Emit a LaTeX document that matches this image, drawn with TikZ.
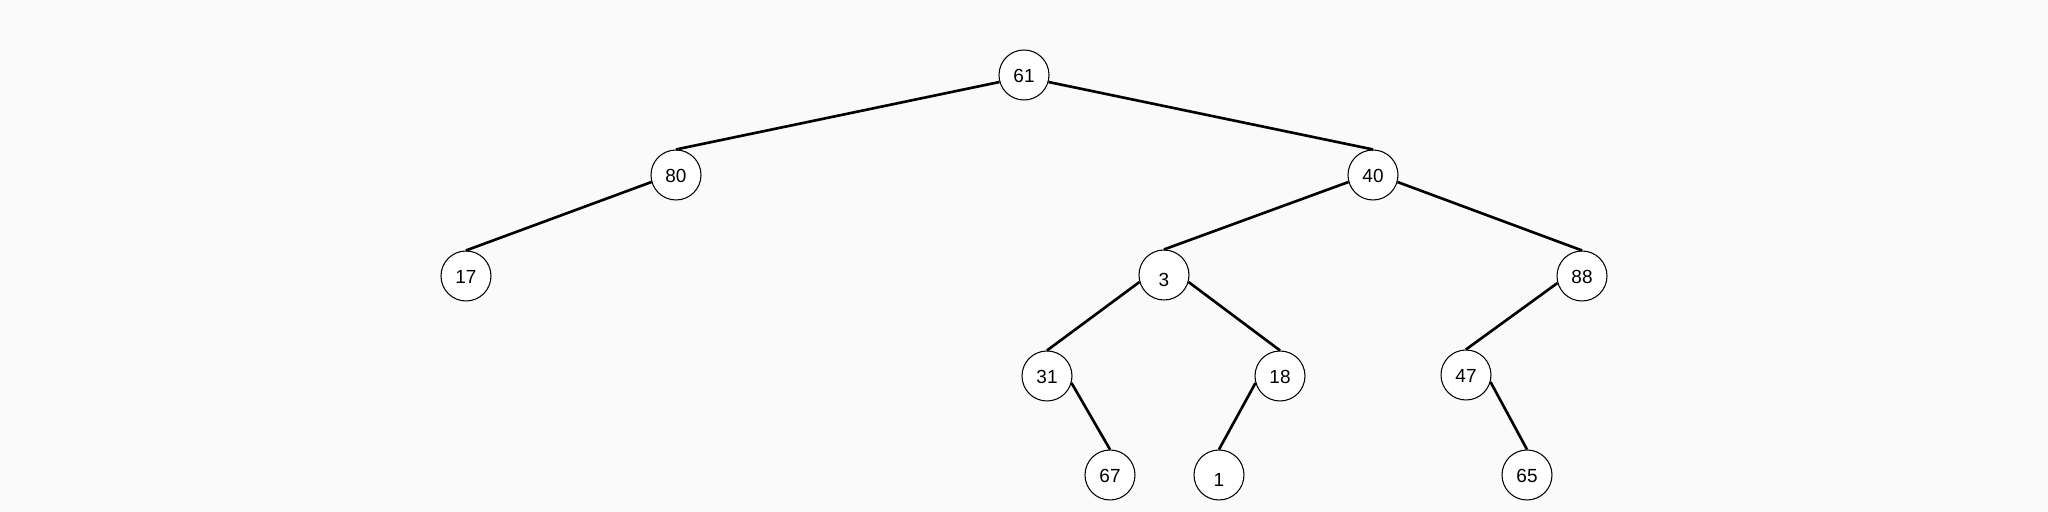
\documentclass[tikz,border=0pt]{standalone}
\usepackage{fontspec}
\setmainfont{Liberation Sans}
\usetikzlibrary{positioning}
\definecolor{bgcol}{RGB}{250,250,250}

\begin{document}
\begin{tikzpicture}[
        treenode/.style={circle, draw, line width=0.3pt, fill=white, minimum size=0.5cm, inner sep=0pt,
            font=\fontsize{5.4}{6}\selectfont, text height=4pt, text depth=0pt},
        lowered/.style={text height=6.8pt},
        edge/.style={line width=0.75pt}
    ]

    % Background
    \fill[bgcol] (0,0) rectangle (20.48,-5.12);
    \useasboundingbox (0,0) rectangle (20.48,-5.12);

    % --- Nodes ---
    \node[treenode] (n61) at (10.24,-0.75) {61};

    \node[treenode] (n80) at (6.76,-1.75) {80};
    \node[treenode] (n40) at (13.73,-1.75) {40};

    \node[treenode] (n17) at (4.66,-2.76) {17};
    \node[treenode, lowered] (n3) at (11.64,-2.75) {3};
    \node[treenode] (n88) at (15.82,-2.76) {88};

    \node[treenode] (n31) at (10.47,-3.76) {31};
    \node[treenode] (n18) at (12.80,-3.76) {18};
    \node[treenode] (n47) at (14.66,-3.75) {47};

    \node[treenode] (n67) at (11.10,-4.75) {67};
    \node[treenode, lowered] (n1) at (12.19,-4.75) {1};
    \node[treenode] (n65) at (15.27,-4.75) {65};

    % --- Edges (left child from angle 196, right child from angle 344) ---
    \draw[edge] (n61.196) -- (n80.north);
    \draw[edge] (n61.344) -- (n40.north);
    \draw[edge] (n80.196) -- (n17.north);
    \draw[edge] (n40.196) -- (n3.north);
    \draw[edge] (n40.344) -- (n88.north);
    \draw[edge] (n3.196) -- (n31.north);
    \draw[edge] (n3.344) -- (n18.north);
    \draw[edge] (n88.196) -- (n47.north);
    \draw[edge] (n31.344) -- (n67.north);
    \draw[edge] (n18.196) -- (n1.north);
    \draw[edge] (n47.344) -- (n65.north);

\end{tikzpicture}
\end{document}
